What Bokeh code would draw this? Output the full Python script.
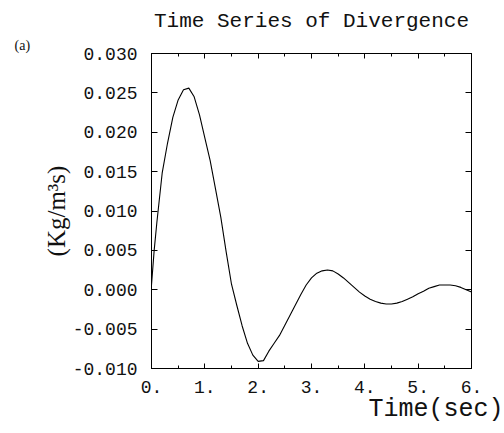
from bokeh.plotting import figure
from bokeh.models import LinearAxis, FixedTicker, Range1d, Title
from bokeh.embed import file_html
from bokeh.resources import INLINE

# Divergence time series (Kg/m^3 s) against time in seconds
time_sec = [0.0, 0.05, 0.1, 0.2, 0.3, 0.4, 0.5, 0.6, 0.7, 0.8, 0.9,
            1.0, 1.1, 1.2, 1.3, 1.4, 1.5, 1.6, 1.7, 1.8, 1.9,
            2.0, 2.1, 2.2, 2.3, 2.4, 2.5, 2.6, 2.7, 2.8, 2.9,
            3.0, 3.1, 3.2, 3.3, 3.4, 3.5, 3.6, 3.7, 3.8, 3.9,
            4.0, 4.1, 4.2, 4.3, 4.4, 4.5, 4.6, 4.7, 4.8, 4.9,
            5.0, 5.1, 5.2, 5.3, 5.4, 5.5, 5.6, 5.7, 5.8, 5.9, 6.0]
divergence = [0.0006, 0.0050, 0.0085, 0.0148, 0.0186, 0.0219, 0.0241, 0.0254, 0.0256, 0.0245, 0.0222,
              0.0193, 0.0164, 0.0128, 0.0092, 0.0048, 0.0007, -0.0020, -0.0046, -0.0068, -0.0083,
              -0.0091, -0.0090, -0.0078, -0.0068, -0.0058, -0.0045, -0.0032, -0.0019, -0.0006, 0.0006,
              0.0015, 0.0021, 0.0024, 0.0025, 0.0024, 0.0020, 0.0015, 0.0009, 0.0003, -0.0003,
              -0.0008, -0.0012, -0.0015, -0.0017, -0.0018, -0.0018, -0.0017, -0.0015, -0.0012, -0.0009,
              -0.0005, -0.0002, 0.0002, 0.0004, 0.0006, 0.0006, 0.0006, 0.0005, 0.0003, 0.0000, -0.0003]

x_ticks = [0, 1, 2, 3, 4, 5, 6]
x_tick_labels = ["0.", "1.", "2.", "3.", "4.", "5.", "6."]
x_minor_ticks = [0.5, 1.5, 2.5, 3.5, 4.5, 5.5]
y_ticks = [-0.010, -0.005, 0.000, 0.005, 0.010, 0.015, 0.020, 0.025, 0.030]
y_tick_labels = ["-0.010", "-0.005", "0.000", "0.005", "0.010", "0.015", "0.020", "0.025", "0.030"]

mono_font = "Liberation Mono"
serif_font = "Liberation Serif"
ink = "#111111"

p = figure(width=504, height=433, output_backend="svg", toolbar_location=None,
           title_location=None,
           x_range=Range1d(0, 6), y_range=Range1d(-0.010, 0.030),
           x_axis_location=None, y_axis_location=None,
           min_border_left=151, min_border_right=33,
           min_border_top=53, min_border_bottom=65)
p.grid.visible = False
p.outline_line_color = "black"
p.outline_line_width = 1
p.background_fill_color = "white"
p.border_fill_color = "white"


def style_axis(ax, ticks, minor, labels=None):
    ax.ticker = FixedTicker(ticks=ticks, minor_ticks=minor)
    ax.axis_line_color = "black"
    ax.major_tick_in = 6
    ax.major_tick_out = 0
    ax.minor_tick_in = 3
    ax.minor_tick_out = 0
    ax.major_tick_line_color = "black"
    ax.minor_tick_line_color = "black"
    if labels is None:
        ax.major_label_text_font_size = "0px"
        ax.major_label_text_color = None
        ax.major_label_standoff = 0
    else:
        ax.major_label_overrides = {t: s for t, s in zip(ticks, labels)}
        ax.major_label_text_font = mono_font
        ax.major_label_text_font_size = "18px"
        ax.major_label_text_color = ink


left = LinearAxis(axis_label="(Kg/m\u00b3s)")
style_axis(left, y_ticks, [], y_tick_labels)
left.major_label_standoff = 14
left.axis_label_standoff = 0
left.axis_label_text_font = serif_font
left.axis_label_text_font_size = "25px"
left.axis_label_text_font_style = "normal"
left.axis_label_text_color = ink
p.add_layout(left, "left")

right = LinearAxis()
style_axis(right, y_ticks, [])
p.add_layout(right, "right")

bottom = LinearAxis()
style_axis(bottom, x_ticks, x_minor_ticks, x_tick_labels)
bottom.major_tick_in = 5
bottom.major_label_standoff = 12
p.add_layout(bottom, "below")

top = LinearAxis()
style_axis(top, x_ticks, x_minor_ticks)
top.major_tick_in = 5
p.add_layout(top, "above")

p.line(time_sec, divergence, line_color="black", line_width=1.1)

# Panel tag and title stacked above the frame
p.add_layout(Title(text="(a)", align="left", offset=-137, standoff=2,
                   text_font=serif_font, text_font_size="14px",
                   text_font_style="normal", text_color=ink), "above")
p.add_layout(Title(text="Time Series of Divergence", align="center", standoff=4,
                   text_font=mono_font, text_font_size="21px",
                   text_font_style="normal", text_color=ink), "above")

# Horizontal axis caption, right-aligned past the frame edge
p.add_layout(Title(text="Time(sec)", align="right", offset=-32, standoff=-5,
                   text_font=mono_font, text_font_size="25px",
                   text_font_style="normal", text_color=ink), "below")

open("out.html", "w").write(file_html(p, INLINE))
